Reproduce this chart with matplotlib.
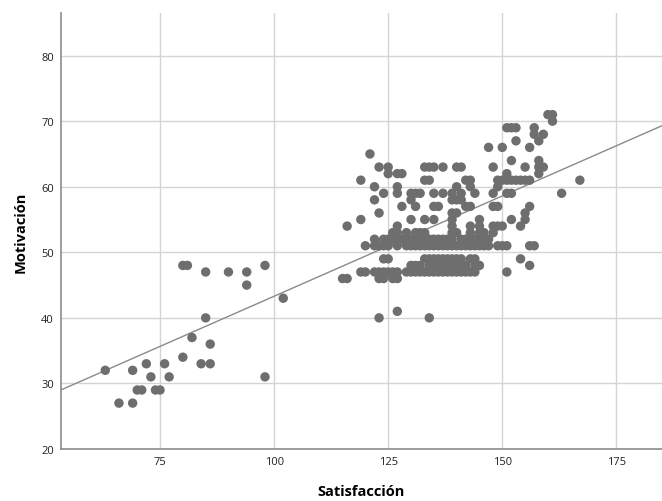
import numpy as np
import matplotlib
matplotlib.use("Agg")
import matplotlib.pyplot as plt

# ---- data (Satisfacción, Motivación) ----
low_x = [63, 66, 69, 69, 70, 71, 72, 73, 74, 75, 76, 77, 80, 82, 80, 81, 85, 85, 84, 86, 86,
         90, 94, 94, 98, 98, 102]
low_y = [32, 27, 27, 32, 29, 29, 33, 31, 29, 29, 33, 31, 34, 37, 48, 48, 47, 40, 33, 33, 36,
         47, 47, 45, 48, 31, 43]

rows = {
    71: [160, 161],
    70: [161],
    69: [151, 152, 153, 157],
    68: [157, 159],
    67: [153, 158],
    66: [147, 150, 156],
    65: [121],
    64: [152, 158],
    63: [123, 125, 133, 134, 135, 137, 140, 141, 148, 155, 158, 159],
    62: [125, 127, 128, 151, 158],
    61: [119, 133, 134, 142, 143, 149, 150, 151, 152, 153, 154, 155, 156, 167],
    60: [122, 127, 140, 143, 149],
    59: [124, 127, 130, 131, 132, 135, 137, 139, 141, 144, 148, 151, 152, 163],
    58: [122, 130, 139, 140, 141],
    57: [128, 131, 135, 136, 142, 143, 148, 149, 156],
    56: [123, 139, 140, 155],
    55: [119, 130, 133, 135, 139, 145, 152, 155],
    54: [116, 127, 139, 143, 145, 148, 149, 150, 154],
    53: [126, 127, 129, 131, 132, 133, 139, 140, 143, 145, 146, 148],
    52: [122, 124, 125, 126, 127, 128, 129, 130, 131, 132, 133, 134, 135, 136, 137, 138,
         139, 141, 142, 143, 144, 145, 146, 147],
    51: [120, 122, 123, 124, 125, 127, 129, 130, 131, 132, 133, 134, 135, 136, 137, 138,
         139, 140, 141, 142, 143, 144, 145, 146, 147, 149, 150, 151, 156, 157],
    49: [124, 125, 133, 134, 135, 136, 137, 138, 139, 140, 141, 143, 144, 154],
    48: [130, 131, 132, 134, 135, 136, 137, 138, 139, 140, 141, 142, 144, 145, 156],
    47: [119, 120, 122, 123, 124, 125, 126, 127, 129, 130, 131, 132, 133, 134, 135, 136,
         137, 138, 139, 140, 141, 142, 143, 144, 151],
    46: [115, 116, 123, 124, 126, 127],
    41: [127],
    40: [123, 134],
}

fit_intercept = 12.7
fit_slope = 0.306

x_ticks = [75, 100, 125, 150, 175]
y_ticks = [20, 30, 40, 50, 60, 70, 80]
x_label = "Satisfacción"
y_label = "Motivación"

# ---- assemble ----
sat = list(low_x)
mot = list(low_y)
for yv, xs in rows.items():
    for xv in xs:
        sat.append(xv)
        mot.append(yv)
sat = np.array(sat, dtype=float)
mot = np.array(mot, dtype=float)

plt.rcParams['font.family'] = ['Open Sans', 'DejaVu Sans']

fig = plt.figure(figsize=(6.62, 5.02), dpi=100)
ax = fig.add_axes([61 / 662, 1 - 450 / 502, 1 - 61 / 662, (450 - 14) / 502])

xlim = (53.3, 185.0)
ylim = (20, 86.5)
ax.set_xlim(*xlim)
ax.set_ylim(*ylim)

ax.set_xticks(x_ticks)
ax.set_yticks(y_ticks)
ax.grid(True, color='#d4d4d4', linewidth=1.0)
ax.set_axisbelow(True)

for s in ['top', 'right']:
    ax.spines[s].set_visible(False)
for s in ['left', 'bottom']:
    ax.spines[s].set_color('#8c8c8c')
    ax.spines[s].set_linewidth(1.2)

ax.tick_params(axis='both', length=0, labelsize=8, colors='#222222', pad=5)

lx = np.array(xlim)
ax.plot(lx, fit_intercept + fit_slope * lx, color='#8a8a8a', linewidth=1.0, zorder=2)

ax.scatter(sat, mot, s=46, color='#6e6e6e', edgecolors='none', zorder=3)

ax.set_xlabel(x_label, fontsize=10.5, fontweight='bold', labelpad=12)
ax.set_ylabel(y_label, fontsize=10.5, fontweight='bold', labelpad=10)

fig.savefig("out.png", dpi=100)
